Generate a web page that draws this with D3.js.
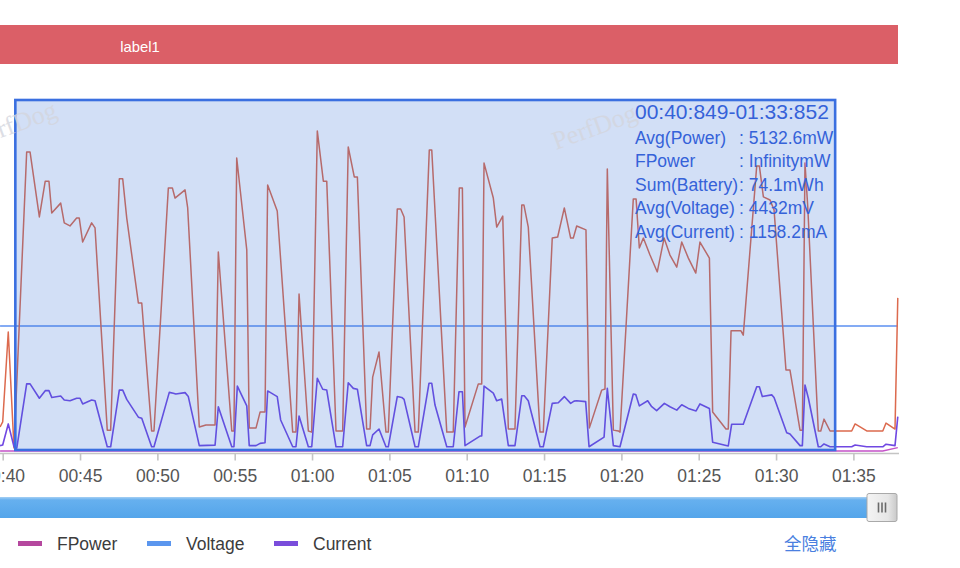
<!DOCTYPE html>
<html><head><meta charset="utf-8">
<script src="https://cdn.jsdelivr.net/npm/d3@7"></script>
<style>html,body{margin:0;padding:0;background:#fff;overflow:hidden;} svg{display:block;font-family:"Liberation Sans",Arial,Helvetica,sans-serif;}</style>
</head><body><svg id="c" width="960" height="568"></svg>
<script>
// ---- data (seconds, mW / mA / mV) ----
const powerTimes = [39.83,40.00,40.36,40.73,41.55,41.77,42.37,42.75,42.99,43.17,43.75,43.98,44.35,44.78,44.95,45.17,45.75,45.97,46.76,46.98,
47.54,47.76,48.02,48.77,48.99,49.63,49.78,50.71,50.97,51.14,51.79,51.96,52.71,53.14,53.73,53.94,54.81,54.95,55.13,55.78,
55.94,56.38,56.64,56.96,57.13,57.75,58.75,58.96,59.16,59.76,59.98,60.34,60.73,60.95,61.55,61.98,62.34,62.73,62.93,63.53,
63.75,63.92,64.33,64.78,64.93,65.51,65.73,65.95,66.66,66.87,67.58,67.74,68.71,69.13,69.52,69.72,69.89,70.75,70.97,71.12,
71.72,71.94,72.33,72.69,73.12,73.56,73.70,73.98,74.74,74.95,75.53,75.88,76.31,76.72,76.89,77.11,77.71,77.93,78.73,78.94,
79.09,79.48,79.80,79.91,80.77,80.95,81.16,81.42,81.85,82.32,82.76,83.14,83.58,83.90,84.33,84.81,85.08,85.69,85.90,86.76,
86.91,87.09,87.73,87.88,88.75,88.92,89.18,89.61,89.87,90.64,90.90,91.55,91.70,91.87,92.05,92.73,92.89,93.10,93.49,94.89,
95.11,95.86,96.90,97.11,97.69,97.87];
const powerValues = [850,1030,4220,110,10600,10600,8300,9570,9570,8440,8790,8090,7980,8260,8260,7410,8090,7910,740,740,
9650,9650,8260,5250,5250,710,710,9330,9330,8970,9260,8620,850,920,920,7060,710,710,10390,7130,
820,820,1380,1380,9430,8510,670,670,5570,710,670,11350,9570,9570,710,710,10780,9720,9720,780,
780,2620,3510,670,670,8580,8580,8300,670,670,10670,10670,670,670,9330,9330,850,2380,2380,10210,
8970,7940,8330,780,780,8720,8720,7940,670,670,7550,7590,8620,7550,7550,7980,7840,820,2160,2200,
10000,740,710,670,8940,8940,7200,7550,6950,6350,7550,6950,6520,7410,6840,6310,7410,6840,1380,780,
780,4260,4260,4110,10110,10110,9010,8900,8550,2870,2870,740,740,10210,8650,710,710,1130,710,710,
960,710,710,990,780,5430];
const currentTimes = [39.83,40.00,40.36,40.73,40.91,41.55,41.77,42.37,42.75,42.99,43.17,43.75,43.98,44.35,44.78,45.00,45.17,45.75,45.97,46.76,
46.98,47.54,47.76,48.02,48.77,48.99,49.63,49.78,50.77,51.03,51.19,51.79,52.00,52.71,53.73,53.94,54.81,54.95,55.17,55.78,
55.94,56.38,56.64,56.96,57.13,57.75,57.97,58.75,58.96,59.16,59.76,59.98,60.34,60.69,60.95,61.55,61.98,62.34,62.67,62.93,
63.53,63.75,63.92,64.33,64.78,64.93,65.51,65.80,65.95,66.66,66.87,67.56,67.74,67.95,68.71,69.13,69.50,69.72,69.89,70.86,
70.97,71.12,71.72,71.94,72.26,72.69,73.12,73.56,73.72,73.98,74.74,74.95,75.53,75.92,76.31,76.72,76.94,77.11,77.69,77.91,
78.88,79.09,79.48,79.91,80.77,80.93,81.16,81.70,81.96,82.28,82.78,83.14,83.58,83.90,84.33,84.83,85.08,85.69,85.90,86.91,
87.13,87.88,88.75,88.92,89.11,89.72,89.87,90.69,90.90,91.55,91.70,91.87,92.09,92.73,92.89,93.10,93.49,94.89,95.11,95.86,
96.90,97.11,97.69,97.87];
const currentValues = [190,210,960,150,100,2380,2380,1870,2140,2140,1900,1950,1810,1780,1870,1870,1670,1810,1780,150,
150,2160,2160,1830,1200,1160,150,150,2080,2050,2020,2070,1930,190,210,1570,150,150,2300,1600,
190,190,270,290,2130,1930,1100,150,150,1240,150,150,2580,2190,2160,150,150,2420,2220,2190,
190,190,570,780,150,150,1930,1900,1830,150,150,2400,2400,1630,150,150,2100,2100,190,530,
530,2300,2050,1780,1840,190,190,1960,1960,1780,150,150,1690,1710,1930,1690,1770,1780,1750,150,
490,2220,190,150,2020,2000,1600,1780,1570,1430,1690,1570,1450,1640,1510,1420,1670,1510,310,180,
950,950,2280,2280,1930,1990,1900,650,600,190,190,2340,1870,150,150,250,150,150,210,150,
150,240,190,1220];
const voltageTimes = [39.83, 97.87];
const voltageValues = [4432, 4432];
const fpowerTimes = [39.83, 96.90, 97.87];
const fpowerValues = [0, 0, 120];
const tickSeconds = [40,45,50,55,60,65,70,75,80,85,90,95];
const tickLabels = ["00:40","00:45","00:50","00:55","01:00","01:05","01:10","01:15","01:20","01:25","01:30","01:35"];
const legendNames = ["FPower","Voltage","Current"];
const legendColors = ["#b5489e","#5b96ee","#7a4ddb"];
const selectionRange = [40.849, 93.852];
const infoTitle = "00:40:849-01:33:852";
const infoLabels = ["Avg(Power)","FPower","Sum(Battery)","Avg(Voltage)","Avg(Current)"];
const infoValues = ["5132.6mW","InfinitymW","74.1mWh","4432mV","1158.2mA"];
const bandLabel = "label1";
const hideAllLabel = "全隐藏";

// ---- drawing ----
const svg = d3.select("#c");
const x = d3.scaleLinear().domain([40, 98]).range([2.7, 899.8]);
const y = d3.scaleLinear().domain([0, 12000]).range([451, 112.6]);

// top band
svg.append("rect").attr("x",0).attr("y",25).attr("width",898).attr("height",39).attr("fill","#db5f67");
svg.append("text").attr("x",140).attr("y",51.5).attr("text-anchor","middle")
  .attr("fill","#fff").attr("font-size",14.8).text(bandLabel);

const plot = svg.append("g");
const line = (ts, vs) => d3.line().x((d,i)=>x(ts[i])).y((d,i)=>y(vs[i]))(vs);

plot.append("path").attr("d", line(voltageTimes, voltageValues)).attr("fill","none")
  .attr("stroke","#5b8ff0").attr("stroke-width",1.5);
plot.append("path").attr("d", line(powerTimes, powerValues)).attr("fill","none")
  .attr("stroke","#dc6a4e").attr("stroke-width",1.5).attr("stroke-linejoin","round");
plot.append("path").attr("d", line(currentTimes, currentValues)).attr("fill","none")
  .attr("stroke","#7048e2").attr("stroke-width",1.6).attr("stroke-linejoin","round");
plot.append("path").attr("d", line(fpowerTimes, fpowerValues)).attr("fill","none")
  .attr("stroke","#c452c8").attr("stroke-width",1.3);

// axis
svg.append("line").attr("x1",0).attr("x2",899).attr("y1",453.5).attr("y2",453.5)
  .attr("stroke","#c4c4c4").attr("stroke-width",1.6);
const axis = d3.axisBottom(x).tickValues(tickSeconds)
  .tickFormat((d,i)=>tickLabels[i]).tickSize(7).tickPadding(9);
const ag = svg.append("g").attr("transform","translate(0,453.5)").call(axis);
ag.select(".domain").remove();
ag.selectAll(".tick line").attr("stroke","#c4c4c4").attr("stroke-width",1.6);
ag.selectAll(".tick text").attr("fill","#555").attr("font-size",17.5)
  .attr("font-family","'Liberation Sans',Arial,sans-serif");

// selection overlay
const sx0 = x(selectionRange[0]), sx1 = x(selectionRange[1]);
svg.append("rect").attr("x",sx0-0.5).attr("y",100).attr("width",sx1-sx0).attr("height",350)
  .attr("fill","rgba(50,110,215,0.22)").attr("stroke","#3a6fe0").attr("stroke-width",2.6);

// watermarks
[[-24,147],[556,150]].forEach(p=>{
  svg.append("text").attr("transform",`translate(${p[0]},${p[1]}) rotate(-20)`)
    .attr("font-family","'Liberation Serif','DejaVu Serif',serif").attr("font-size",26)
    .attr("fill","#d4d6de").attr("opacity",0.8).text("PerfDog");
});

// info text
const info = svg.append("g").attr("fill","#3562d9").attr("font-size",17.5);
info.append("text").attr("x",635).attr("y",118.5).attr("font-size",21).text(infoTitle);
infoLabels.forEach((l,i)=>{
  const yy = 143.5 + i*23.5;
  info.append("text").attr("x",635).attr("y",yy).text(l);
  info.append("text").attr("x",739).attr("y",yy).text(": " + infoValues[i]);
});

// slider
const defs = svg.append("defs");
const g1 = defs.append("linearGradient").attr("id","sl").attr("x1",0).attr("x2",0).attr("y1",0).attr("y2",1);
g1.append("stop").attr("offset","0%").attr("stop-color","#a6d0f4");
g1.append("stop").attr("offset","14%").attr("stop-color","#66b0ef");
g1.append("stop").attr("offset","100%").attr("stop-color","#54a5ea");
const g2 = defs.append("linearGradient").attr("id","hd").attr("x1",0).attr("x2",1).attr("y1",0).attr("y2",0);
g2.append("stop").attr("offset","0%").attr("stop-color","#f4f4f4");
g2.append("stop").attr("offset","70%").attr("stop-color","#e6e6e6");
g2.append("stop").attr("offset","100%").attr("stop-color","#c9c9c9");
svg.append("rect").attr("x",0).attr("y",497).attr("width",880).attr("height",21).attr("fill","url(#sl)");
svg.append("rect").attr("x",867).attr("y",493.5).attr("width",30).attr("height",28).attr("rx",2)
  .attr("fill","url(#hd)").attr("stroke","#a9a9a9").attr("stroke-width",1);
[878.5,882,885.5].forEach(xx=>{
  svg.append("line").attr("x1",xx).attr("x2",xx).attr("y1",502.5).attr("y2",512.5)
    .attr("stroke","#6a6a6a").attr("stroke-width",1.6);
});

// legend
const legX = [18, 147, 274];
legendNames.forEach((n,i)=>{
  svg.append("rect").attr("x",legX[i]).attr("y",541).attr("width",24).attr("height",5).attr("fill",legendColors[i]);
  svg.append("text").attr("x",legX[i]+39).attr("y",550).attr("font-size",17.5).attr("fill","#3c3c3c").text(n);
});
svg.append("text").attr("x",784).attr("y",549.5).attr("font-size",17.5)
  .attr("font-family","'Noto Sans CJK SC',sans-serif").attr("fill","#4a7fe0").text(hideAllLabel);
</script>
</body></html>
